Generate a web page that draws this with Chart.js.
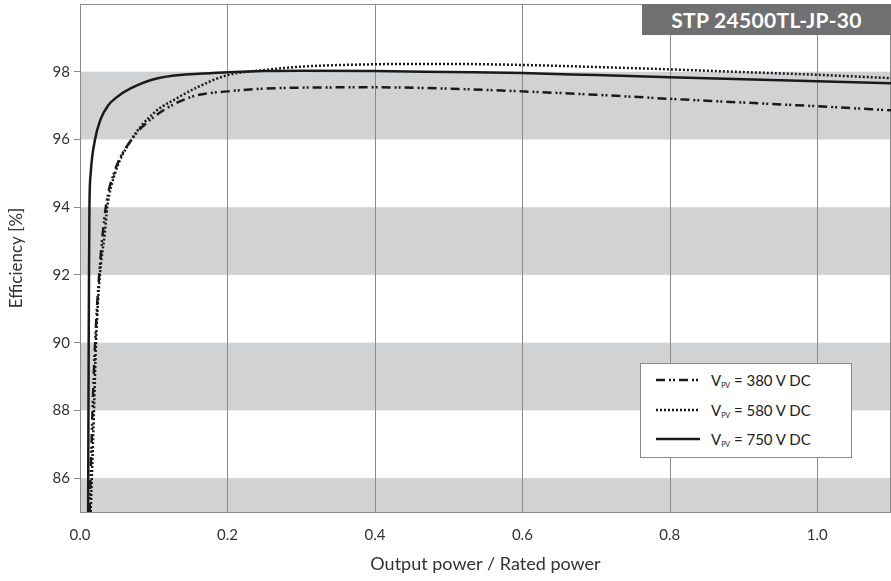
<!DOCTYPE html>
<html>
<head>
<meta charset="utf-8">
<script src="https://cdn.jsdelivr.net/npm/chart.js@4/dist/chart.umd.min.js"></script>
<style>
    html, body { margin: 0; padding: 0; background: #fff; }
    #wrap { position: relative; width: 891px; height: 581px; font-family: Lato, "Open Sans", sans-serif; }
    #title {
        position: absolute; left: 642px; top: 4px; width: 249px; height: 31px;
        background: #6f7071; color: #fff; font-weight: bold; font-size: 21px;
        line-height: 31px; text-align: center; letter-spacing: 0.3px;
    }
    #legend {
        position: absolute; left: 640px; top: 363px; width: 210px; height: 93px;
        background: #fff; border: 1.5px solid #8a8a8a; color: #222; font-size: 15px;
    }
    .row { position: absolute; left: 0; height: 24px; line-height: 24px; white-space: nowrap; }
    .row svg { position: absolute; left: 15px; top: 7px; }
    .row span { position: absolute; left: 70px; }
    .row sub { font-size: 7px; vertical-align: -2px; }
</style>
</head>
<body>
<div id="wrap">
    <canvas id="chart" width="891" height="581"></canvas>
    <div id="title">STP 24500TL-JP-30</div>
    <div id="legend"></div>
</div>
<script>
// Efficiency curves
const xTicks = [0, 0.2, 0.4, 0.6, 0.8, 1.0];
const yTicks = [86, 88, 90, 92, 94, 96, 98];
const bandRanges = [[84, 86], [88, 90], [92, 94], [96, 98]];

const seriesNames = ['380 V DC', '580 V DC', '750 V DC'];

const power380 = [0.013, 0.017, 0.0205, 0.026, 0.035, 0.046, 0.07, 0.1, 0.15, 0.2, 0.3, 0.4, 0.5, 0.6, 0.7, 0.8, 0.9, 1.0, 1.1];
const eff380 = [85, 88, 90, 92, 94, 95, 96, 96.66, 97.25, 97.42, 97.53, 97.54, 97.5, 97.42, 97.32, 97.2, 97.09, 96.98, 96.86];

const power580 = [0.0145, 0.016, 0.019, 0.0217, 0.027, 0.0335, 0.037, 0.0475, 0.07, 0.1, 0.13, 0.16, 0.2, 0.25, 0.3, 0.4, 0.45, 0.5, 0.6, 0.7, 0.8, 0.9, 1.0, 1.1];
const eff580 = [85, 86, 88, 90, 92, 93.2, 94, 95, 96, 96.78, 97.2, 97.55, 97.9, 98.05, 98.15, 98.22, 98.23, 98.23, 98.2, 98.14, 98.07, 97.99, 97.91, 97.81];

const power750 = [0.011, 0.0118, 0.0122, 0.0128, 0.0145, 0.0204, 0.028, 0.038, 0.05, 0.068, 0.104, 0.18, 0.25, 0.3, 0.4, 0.5, 0.6, 0.7, 0.8, 0.9, 1.0, 1.1];
const eff750 = [85, 90, 92, 94, 95, 96, 96.6, 97, 97.25, 97.5, 97.8, 97.96, 98.02, 98.03, 98.02, 97.99, 97.96, 97.9, 97.84, 97.78, 97.72, 97.66];

const dashes = [[9, 4, 2, 2, 2, 4], [2, 2], []];

function toPoints(xs, ys) {
    return xs.map((x, i) => ({ x: x, y: ys[i] }));
}

// gray bands + frame around the plot area
const bandsPlugin = {
    id: 'bands',
    beforeDatasetsDraw(chart) {
        const { ctx, chartArea, scales } = chart;
        ctx.save();
        ctx.fillStyle = '#d1d2d4';
        bandRanges.forEach(r => {
            const y1 = Math.max(scales.y.getPixelForValue(r[1]), chartArea.top);
            const y2 = Math.min(scales.y.getPixelForValue(r[0]), chartArea.bottom);
            ctx.fillRect(chartArea.left, y1, chartArea.right - chartArea.left, y2 - y1);
        });
        // vertical grid over bands
        ctx.strokeStyle = '#8a8a8a';
        ctx.lineWidth = 1;
        xTicks.slice(1).forEach(v => {
            const x = Math.round(scales.x.getPixelForValue(v)) + 0.5;
            ctx.beginPath();
            ctx.moveTo(x, chartArea.top);
            ctx.lineTo(x, chartArea.bottom);
            ctx.stroke();
        });
        ctx.strokeRect(chartArea.left + 0.5, chartArea.top + 0.5, chartArea.right - chartArea.left - 1, chartArea.bottom - chartArea.top);
        ctx.restore();
    }
};

const datasets = [
    { data: toPoints(power380, eff380), borderDash: dashes[0] },
    { data: toPoints(power580, eff580), borderDash: dashes[1] },
    { data: toPoints(power750, eff750), borderDash: dashes[2] }
].map(d => Object.assign(d, {
    borderColor: '#1a1a1a',
    borderWidth: 2.5,
    pointRadius: 0,
    fill: false,
    cubicInterpolationMode: 'monotone',
    clip: 0
}));

const tickFont = { family: 'Lato, "Open Sans", sans-serif', size: 15 };

new Chart(document.getElementById('chart'), {
    type: 'line',
    data: { datasets: datasets },
    options: {
        responsive: false,
        animation: false,
        layout: { padding: { top: 4, right: 0, left: 0, bottom: 0 } },
        plugins: { legend: { display: false }, tooltip: { enabled: false } },
        scales: {
            x: {
                type: 'linear',
                min: 0,
                max: 1.1,
                afterBuildTicks: s => { s.ticks = xTicks.map(v => ({ value: v })); },
                afterFit: s => { s.height = 69; s.paddingLeft = 0; s.paddingRight = 0; },
                grid: { display: false },
                border: { display: false },
                ticks: {
                    color: '#333',
                    font: tickFont,
                    padding: 6,
                    callback: v => v.toFixed(1)
                },
                title: {
                    display: true,
                    text: 'Output power / Rated power',
                    color: '#333',
                    font: { family: tickFont.family, size: 18 },
                    padding: { top: 0, bottom: 6 }
                }
            },
            y: {
                min: 85,
                max: 100,
                afterBuildTicks: s => { s.ticks = yTicks.map(v => ({ value: v })); },
                afterFit: s => { s.width = 80; s.paddingTop = 0; s.paddingBottom = 0; },
                grid: { drawOnChartArea: false, drawTicks: true, tickLength: 6, color: '#8a8a8a' },
                border: { display: false },
                ticks: { color: '#333', font: tickFont, padding: 4 },
                title: {
                    display: true,
                    text: 'Efficiency [%]',
                    color: '#333',
                    font: { family: tickFont.family, size: 17 },
                    padding: { top: 6, bottom: 0 }
                }
            }
        }
    },
    plugins: [bandsPlugin]
});

// legend with line samples
const legend = document.getElementById('legend');
seriesNames.forEach((name, i) => {
    const row = document.createElement('div');
    row.className = 'row';
    row.style.top = (4 + i * 29.5) + 'px';
    row.innerHTML = '<svg width="44" height="10"><line x1="0" y1="5" x2="44" y2="5" stroke="#1a1a1a" stroke-width="2.5" stroke-dasharray="' +
        (dashes[i].length ? dashes[i].join(' ') : 'none') + '"/></svg>' +
        '<span>V<sub>PV</sub> = ' + name + '</span>';
    legend.appendChild(row);
});
</script>
</body>
</html>
